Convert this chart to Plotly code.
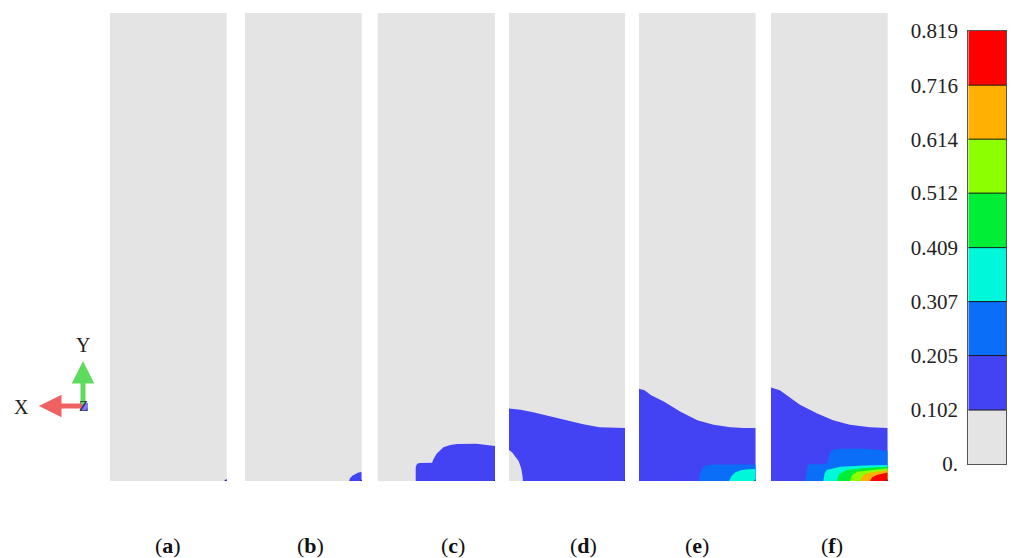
import plotly.graph_objects as go

# ---- contour levels and band colours -------------------------------------
levels = [0.0, 0.102, 0.205, 0.307, 0.409, 0.512, 0.614, 0.716, 0.819]
level_text = ["0.", "0.102", "0.205", "0.307", "0.409", "0.512", "0.614", "0.716", "0.819"]
band_colors = ["#E4E4E4", "#4343F4", "#0A6EF8", "#00F8DA",
               "#00EE35", "#8CFF00", "#FFB000", "#FF0000"]

# model size (mm) of every slice
PANEL_W = 25.0
PANEL_H = 100.0

panel_names = ["a", "b", "c", "d", "e", "f"]

# ---- band outlines: region where value >= band lower bound ----------------
# (a)
a_b1_x = [24.4, 25.0, 25.0, 24.8]
a_b1_y = [0.0, 0.0, 0.5, 0.3]

# (b)
b_b1_x = [22.3, 22.5, 23.0, 23.6, 24.3, 25.0, 25.0]
b_b1_y = [0.0, 0.6, 1.1, 1.5, 1.8, 1.9, 0.0]

# (c)
c_b1_x = [8.1, 8.1, 8.4, 9.0, 11.6, 11.9, 12.6, 14.0, 15.5, 16.9, 21.0, 23.5, 25.0, 25.0]
c_b1_y = [0.0, 3.0, 3.7, 3.85, 3.9, 4.7, 5.9, 7.2, 7.7, 7.9, 7.95, 7.7, 7.5, 0.0]

# (d)
d_b1_x = [0.0, 2.5, 5.2, 8.5, 12.4, 16.0, 19.5, 22.5, 25.0, 25.0,
          3.0, 2.9, 2.6, 2.1, 1.4, 0.7, 0.0]
d_b1_y = [15.5, 15.2, 14.7, 13.9, 12.9, 12.1, 11.5, 11.35, 11.3, 0.0,
          0.0, 1.2, 2.8, 4.2, 5.3, 6.1, 6.6]

# (e)
e_b1_x = [0.0, 1.2, 2.5, 5.3, 8.9, 12.5, 16.0, 19.6, 22.5, 25.0, 25.0, 0.0]
e_b1_y = [19.7, 19.4, 18.4, 17.0, 14.8, 13.0, 12.0, 11.5, 11.35, 11.3, 0.0, 0.0]
e_b2_x = [12.8, 13.0, 13.5, 14.3, 16.0, 25.0, 25.0]
e_b2_y = [0.0, 1.3, 2.6, 3.3, 3.55, 3.55, 0.0]
e_b3_x = [19.3, 19.8, 20.6, 21.8, 23.5, 25.0, 25.0]
e_b3_y = [0.0, 1.0, 1.8, 2.3, 2.5, 2.55, 0.0]

# (f)
f_b1_x = [0.0, 1.9, 3.3, 6.2, 9.8, 13.3, 16.9, 21.2, 25.0, 25.0, 0.0]
f_b1_y = [20.0, 19.4, 18.4, 16.3, 14.5, 13.0, 12.0, 11.5, 11.3, 0.0, 0.0]
f_b2_x = [7.3, 7.5, 7.9, 11.6, 12.2, 12.5, 13.2, 14.5, 20.0, 23.0, 25.0, 25.0]
f_b2_y = [0.0, 1.5, 3.6, 3.6, 4.2, 5.8, 6.6, 6.9, 6.9, 6.7, 6.4, 0.0]
f_b3_x = [11.2, 11.5, 11.9, 14.8, 20.0, 25.0, 25.0]
f_b3_y = [0.0, 1.6, 2.35, 3.05, 3.3, 3.4, 0.0]
f_b4_x = [14.1, 14.6, 16.2, 20.0, 25.0, 25.0]
f_b4_y = [0.0, 1.5, 2.35, 2.8, 3.05, 0.0]
f_b5_x = [16.9, 17.4, 18.5, 22.0, 25.0, 25.0]
f_b5_y = [0.0, 1.3, 2.0, 2.45, 2.7, 0.0]
f_b6_x = [19.1, 19.6, 20.6, 23.0, 25.0, 25.0]
f_b6_y = [0.0, 1.0, 1.65, 2.1, 2.35, 0.0]
f_b7_x = [21.2, 21.7, 22.6, 24.0, 25.0, 25.0]
f_b7_y = [0.0, 0.8, 1.3, 1.6, 1.8, 0.0]

panel_bands = {
    "a": [(1, a_b1_x, a_b1_y)],
    "b": [(1, b_b1_x, b_b1_y)],
    "c": [(1, c_b1_x, c_b1_y)],
    "d": [(1, d_b1_x, d_b1_y)],
    "e": [(1, e_b1_x, e_b1_y), (2, e_b2_x, e_b2_y), (3, e_b3_x, e_b3_y)],
    "f": [(1, f_b1_x, f_b1_y), (2, f_b2_x, f_b2_y), (3, f_b3_x, f_b3_y),
          (4, f_b4_x, f_b4_y), (5, f_b5_x, f_b5_y), (6, f_b6_x, f_b6_y),
          (7, f_b7_x, f_b7_y)],
}

# horizontal placement of the six slices (pixels)
W, H = 1012, 558
panel_px = [(110, 226.7), (245, 361.7), (377.7, 495), (509, 625),
            (639, 755.7), (771, 887.7)]
panel_top, panel_bot = 13, 481
caption_px = [168, 310, 453, 583, 697, 832]

SERIF = "Liberation Serif, Times New Roman, serif"


def px_x(p):
    return p / W


def px_y(p):
    return 1 - p / H


fig = go.Figure()
layout_axes = {}

for i, name in enumerate(panel_names):
    k = i + 1
    xa = "x" if k == 1 else f"x{k}"
    ya = "y" if k == 1 else f"y{k}"
    for band, bx, by in panel_bands[name]:
        fig.add_trace(go.Scatter(
            x=bx, y=by, mode="lines", fill="toself",
            fillcolor=band_colors[band], line=dict(width=0, color=band_colors[band]),
            hoverinfo="skip", showlegend=False, xaxis=xa, yaxis=ya))
    # reference node at the lower right corner
    fig.add_trace(go.Scatter(
        x=[PANEL_W], y=[0], mode="markers",
        marker=dict(size=3, color="#23235e"), hoverinfo="skip",
        showlegend=False, xaxis=xa, yaxis=ya))
    x0, x1 = panel_px[i]
    axis_common = dict(showgrid=False, zeroline=False, showticklabels=False,
                       ticks="", showline=False, fixedrange=True, automargin=False)
    layout_axes["xaxis" if k == 1 else f"xaxis{k}"] = dict(
        domain=[px_x(x0), px_x(x1)], range=[0, PANEL_W], anchor=ya, **axis_common)
    layout_axes["yaxis" if k == 1 else f"yaxis{k}"] = dict(
        domain=[px_y(panel_bot), px_y(panel_top)], range=[0, PANEL_H],
        anchor=xa, **axis_common)
    fig.add_annotation(
        x=px_x(caption_px[i]), y=px_y(545), xref="paper", yref="paper",
        xanchor="center", yanchor="middle",
        text=f"(<b>{name}</b>)", showarrow=False,
        font=dict(family=SERIF, size=22, color="#111111"))

# ---- colour legend bar ----------------------------------------------------
cb = 7
fig.add_trace(go.Heatmap(
    x=[0, 1], y=levels, z=[[j] for j in range(len(band_colors))],
    zmin=0, zmax=len(band_colors) - 1,
    colorscale=[[j / (len(band_colors) - 1), c] for j, c in enumerate(band_colors)],
    showscale=False, hoverinfo="skip", xaxis=f"x{cb}", yaxis=f"y{cb}"))
sep_x, sep_y = [], []
for lv in levels[1:-1]:
    sep_x += [0, 1, None]
    sep_y += [lv, lv, None]
fig.add_trace(go.Scatter(
    x=sep_x, y=sep_y, mode="lines", line=dict(color="#1a1a1a", width=1),
    hoverinfo="skip", showlegend=False, xaxis=f"x{cb}", yaxis=f"y{cb}"))

layout_axes[f"xaxis{cb}"] = dict(
    domain=[px_x(968.3), px_x(1006)], range=[0, 1], anchor=f"y{cb}",
    showgrid=False, zeroline=False, showticklabels=False, ticks="",
    showline=True, mirror=True, linecolor="#555555", linewidth=1,
    fixedrange=True, automargin=False)
layout_axes[f"yaxis{cb}"] = dict(
    domain=[px_y(464), px_y(30.7)], range=[levels[0], levels[-1]],
    anchor=f"x{cb}", side="left", tickmode="array", tickvals=levels,
    ticktext=level_text, ticks="", ticklabelstandoff=5,
    tickfont=dict(family=SERIF, size=21, color="#222222"),
    showgrid=False, zeroline=False, showline=True, mirror=True,
    linecolor="#555555", linewidth=1, fixedrange=True, automargin=False)

# ---- coordinate triad -----------------------------------------------------
ox, oy = 83, 406
fig.add_annotation(x=px_x(ox), y=px_y(361), xref="paper", yref="paper",
                   ax=0, ay=oy - 361, text="", showarrow=True, arrowhead=2,
                   arrowsize=0.9, arrowwidth=5, arrowcolor="#5EDB5E")
fig.add_annotation(x=px_x(39), y=px_y(oy), xref="paper", yref="paper",
                   ax=ox - 39, ay=0, text="", showarrow=True, arrowhead=2,
                   arrowsize=0.9, arrowwidth=5, arrowcolor="#F06262")
fig.add_annotation(x=px_x(ox), y=px_y(oy), xref="paper", yref="paper", text="Z",
                   xanchor="center", yanchor="middle", showarrow=False,
                   font=dict(family=SERIF, size=15, color="#333333"))
fig.add_shape(type="rect", xref="paper", yref="paper",
              x0=px_x(ox - 3), x1=px_x(ox + 5), y0=px_y(oy + 5), y1=px_y(oy - 3),
              fillcolor="rgba(100,100,250,0.85)", line=dict(width=0))
fig.add_annotation(x=px_x(21.7), y=px_y(407), xref="paper", yref="paper", text="X",
                   xanchor="center", yanchor="middle", showarrow=False,
                   font=dict(family=SERIF, size=20, color="#222222"))
fig.add_annotation(x=px_x(83.3), y=px_y(345), xref="paper", yref="paper", text="Y",
                   xanchor="center", yanchor="middle", showarrow=False,
                   font=dict(family=SERIF, size=20, color="#222222"))

fig.update_layout(
    width=W, height=H, margin=dict(l=0, r=0, t=0, b=0, autoexpand=False),
    paper_bgcolor="white", plot_bgcolor="#E4E4E4",
    showlegend=False, **layout_axes)

fig.write_html("out.html")
